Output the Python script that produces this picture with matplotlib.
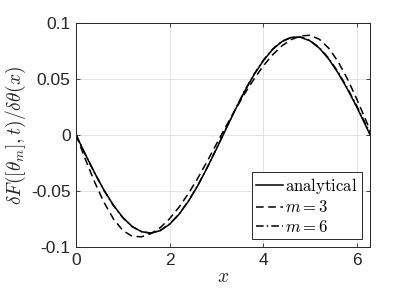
import numpy as np
import matplotlib
matplotlib.use("Agg")
import matplotlib.pyplot as plt

plt.rcParams['font.family'] = ['Liberation Sans', 'DejaVu Sans']
plt.rcParams['mathtext.fontset'] = 'cm'

# x grid of the read-off points
x = [0, 0.2, 0.4, 0.6, 0.8, 1.0, 1.2, 1.4, 1.6, 1.8, 2.0, 2.2, 2.4, 2.6, 2.8, 3.0,
     3.2, 3.4, 3.6, 3.8, 4.0, 4.2, 4.4, 4.6, 4.8, 5.0, 5.2, 5.4, 5.6, 5.8, 6.0, 6.2, 6.2832]

analytical = [0, -0.0174, -0.0340, -0.0494, -0.0627, -0.0736, -0.0816, -0.0862, -0.0875,
              -0.0852, -0.0795, -0.0707, -0.0591, -0.0452, -0.0293, -0.0123, 0.0051, 0.0224,
              0.0388, 0.0536, 0.0662, 0.0763, 0.0833, 0.0870, 0.0872, 0.0839, 0.0773, 0.0676,
              0.0552, 0.0407, 0.0247, 0.0073, 0.0]

m3 = [0, -0.0218, -0.0423, -0.0603, -0.0749, -0.0851, -0.0903, -0.0907, -0.0879, -0.0825,
      -0.0745, -0.0643, -0.0522, -0.0385, -0.0236, -0.0079, 0.0075, 0.0224, 0.0367, 0.0498,
      0.0616, 0.0715, 0.0795, 0.0851, 0.0883, 0.0889, 0.0853, 0.0773, 0.0653, 0.0498, 0.0318,
      0.0123, 0.004]

m6 = [0, -0.0176, -0.0343, -0.0497, -0.0630, -0.0738, -0.0817, -0.0862, -0.0874,
      -0.0850, -0.0792, -0.0704, -0.0588, -0.0449, -0.0291, -0.0121, 0.0054, 0.0228,
      0.0393, 0.0541, 0.0666, 0.0766, 0.0835, 0.0871, 0.0872, 0.0842, 0.0778, 0.0683,
      0.0560, 0.0416, 0.0257, 0.0086, 0.002]

fig = plt.figure(figsize=(4.09, 3.0), dpi=100)
ax = fig.add_axes([0.186, 0.176, 0.719, 0.748])

ax.plot(x, analytical, '-', color='black', lw=1.1, label=r'$\mathrm{analytical}$')
ax.plot(x, m3, '--', color='black', lw=1.1, dashes=(5, 3), label=r'$m=3$')
ax.plot(x, m6, '-.', color='black', lw=1.1, dashes=(5, 2, 1, 2), label=r'$m=6$')

ax.set_xlim(0, 2 * np.pi)
ax.set_ylim(-0.1, 0.1)
ax.set_xticks([0, 2, 4, 6])
ax.set_yticks([-0.1, -0.05, 0, 0.05, 0.1])
ax.set_yticklabels(['-0.1', '-0.05', '0', '0.05', '0.1'])
ax.grid(True, color='#e3e3e3', lw=0.7)
ax.set_axisbelow(True)
ax.tick_params(direction='in', top=True, right=True, labelsize=12.5, colors='#262626',
               length=3, width=0.6, pad=4)
for s in ax.spines.values():
    s.set_color('#262626')
    s.set_linewidth(0.7)

ax.set_xlabel(r'$x$', fontsize=14, color='#262626', labelpad=1)
ax.set_ylabel(r'$\delta F([\theta_m],t)/\delta\theta(x)$', fontsize=14, color='#262626', labelpad=2)

leg = ax.legend(loc='lower right', fontsize=12, frameon=True, fancybox=False,
                edgecolor='#262626', framealpha=1, handlelength=1.6, handletextpad=0.15,
                borderpad=0.25, labelspacing=0.2, borderaxespad=0.5)
leg.get_frame().set_linewidth(0.7)

fig.savefig('out.png', dpi=100)
